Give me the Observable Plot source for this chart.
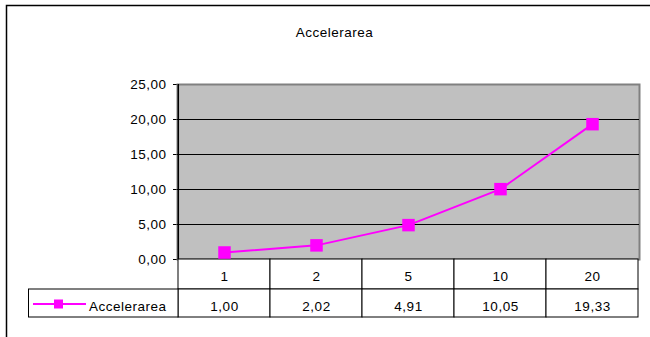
<!DOCTYPE html>
<html>
<head>
<meta charset="utf-8">
<script src="https://cdn.jsdelivr.net/npm/d3@7"></script>
<script src="https://cdn.jsdelivr.net/npm/@observablehq/plot@0.6"></script>
<style>
  html, body { margin: 0; padding: 0; background: #fff; }
  #chart svg { display: block; }
  #chart svg text { letter-spacing: 0.5px; }
</style>
</head>
<body>
<div id="chart"></div>
<script>
const title = "Accelerarea";
const seriesName = "Accelerarea";
const categories = ["1", "2", "5", "10", "20"];
const values = [1.00, 2.02, 4.91, 10.05, 19.33];
const yTicks = [0, 5, 10, 15, 20, 25];
const gridValues = [5, 10, 15, 20];

const fmt = d => d.toFixed(2).replace(".", ",");
const data = categories.map((c, i) => ({cat: c, v: values[i]}));

const W = 650, H = 337;
const mL = 177, mR = 11, mT = 84, mB = 78;
const bw = (W - mL - mR) / categories.length;
const pxPerUnit = (H - mT - mB) / 25;
const row1 = -30 / pxPerUnit;   // data-table row 1 bottom (below y = 0)
const row2 = -58 / pxPerUnit;   // data-table row 2 bottom
const FS = 13.5;
const FAMILY = "'Liberation Sans', Arial, sans-serif";
const mag = "#ff00ff";

const plot = Plot.plot({
  width: W,
  height: H,
  marginLeft: mL,
  marginRight: mR,
  marginTop: mT,
  marginBottom: mB,
  style: {fontFamily: FAMILY, fontSize: FS + "px", color: "#000", background: "transparent"},
  x: {type: "band", domain: categories, padding: 0, axis: null},
  y: {domain: [0, 25], ticks: yTicks, tickFormat: fmt, tickSize: 4, tickPadding: 7, label: null, line: true},
  marks: [
    Plot.frame({fill: "#c0c0c0", stroke: "#808080", strokeWidth: 2}),
    Plot.ruleY(gridValues, {stroke: "#000", strokeWidth: 1}),
    Plot.ruleX([categories[0]], {dx: -bw / 2, y1: 0, y2: 25, stroke: "#000", strokeWidth: 1.5}),
    // data table: category row
    Plot.barY(data, {x: "cat", y1: 0, y2: row1, fill: "#fff", stroke: "#000", strokeWidth: 1}),
    // data table: value row
    Plot.barY(data, {x: "cat", y1: row1, y2: row2, fill: "#fff", stroke: "#000", strokeWidth: 1}),
    Plot.text(data, {x: "cat", y: row1 / 2, text: "cat", dy: 2, fontSize: FS}),
    Plot.text(data, {x: "cat", y: (row1 + row2) / 2, text: d => fmt(d.v), dy: 3, fontSize: FS}),
    Plot.line(data, {x: "cat", y: "v", stroke: mag, strokeWidth: 2}),
    Plot.dot(data, {x: "cat", y: "v", symbol: "square", r: 12.5 / Math.sqrt(Math.PI), fill: mag, stroke: "none"}),
    Plot.text([title], {frameAnchor: "top", dy: -57, dx: -74, fontSize: FS})
  ]
});

const svg = d3.select(plot);
const xs = plot.scale("x");
const ys = plot.scale("y");
const left = 28.5;
const right = xs.apply(categories[0]);
const yTop = ys.apply(row1), yBot = ys.apply(row2);
const g = svg.append("g");
g.append("rect")
  .attr("x", left).attr("y", yTop)
  .attr("width", right - left).attr("height", yBot - yTop)
  .attr("fill", "#fff").attr("stroke", "#000");
const ky = (yTop + yBot) / 2 + 1;
g.append("line").attr("x1", 33).attr("x2", 86).attr("y1", ky).attr("y2", ky)
  .attr("stroke", mag).attr("stroke-width", 2);
g.append("rect").attr("x", 58.5 - 4.5).attr("y", ky - 4.5).attr("width", 9).attr("height", 9).attr("fill", mag);
g.append("text").attr("x", 89).attr("y", ky + 2).attr("dy", "0.38em")
  .attr("text-anchor", "start")
  .style("font-family", FAMILY).style("font-size", FS + "px").text(seriesName);
// outer chart border
svg.append("rect").attr("x", 6.5).attr("y", 5.5).attr("width", 700).attr("height", 400)
  .attr("fill", "none").attr("stroke", "#000").attr("stroke-width", 1.5);

document.getElementById("chart").appendChild(plot);
</script>
</body>
</html>
